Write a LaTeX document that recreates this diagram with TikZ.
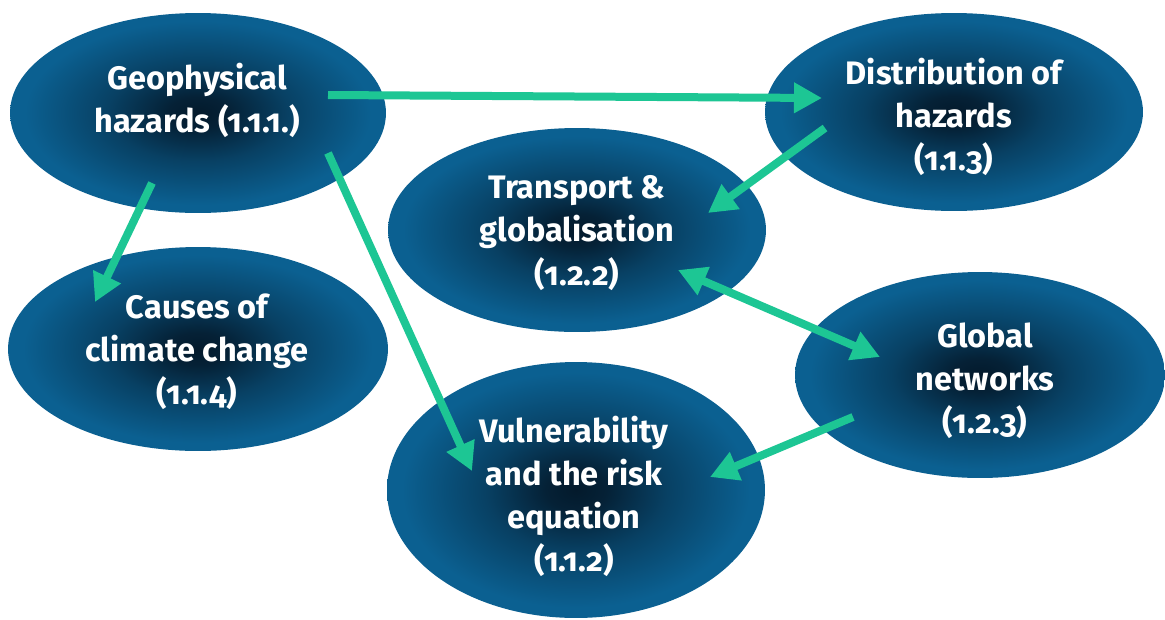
\documentclass[tikz,border=0pt]{standalone}
\usepackage{fontspec}
\setmainfont{Fira Sans}[Numbers=OldStyle]
\usetikzlibrary{shapes.geometric,arrows.meta}
\definecolor{ellblue}{RGB}{11,96,145}
\definecolor{elldark}{RGB}{4,26,44}
\definecolor{arrgreen}{RGB}{29,198,148}
\pgfdeclareradialshading{ellshade}{\pgfpoint{0bp}{0bp}}{%
  color(0bp)=(elldark); color(4bp)=(elldark!90!ellblue); color(12bp)=(elldark!45!ellblue); color(23bp)=(ellblue); color(50bp)=(ellblue)}
\begin{document}
\begin{tikzpicture}[x=0.02cm,y=-0.02cm,
  bubble/.style={ellipse, shading=ellshade, inner sep=0pt},
  lbl/.style={text=white, align=center, font=\fontsize{18.5}{24.5}\selectfont\bfseries},
  arr/.style={draw=arrgreen, line width=0.16cm, -{Triangle[length=0.56cm,width=0.58cm]}},
  arrboth/.style={draw=arrgreen, line width=0.16cm, {Triangle[length=0.56cm,width=0.58cm]}-{Triangle[length=0.56cm,width=0.58cm]}}]
\useasboundingbox (0,0) rectangle (1165,619);
\fill[white] (0,0) rectangle (1165,619);
% ellipses
\node[bubble, minimum width=7.52cm, minimum height=4.0cm] (geo) at (198,113) {};
\node[bubble, minimum width=7.56cm, minimum height=3.96cm] (dist) at (954,112) {};
\node[bubble, minimum width=7.56cm, minimum height=4.08cm] (trans) at (577,230) {};
\node[bubble, minimum width=7.6cm, minimum height=4.08cm] (cause) at (198,349) {};
\node[bubble, minimum width=7.4cm, minimum height=4.12cm] (glob) at (980,375) {};
\node[bubble, minimum width=7.56cm, minimum height=5.12cm] (vuln) at (576,490) {};
% labels
\node[lbl] (geoT) at (197,100) {Geophysical\\hazards (1.1.1.)};
\node[lbl] (distT) at (954,117) {Distribution of\\hazards\\(1.1.3)};
\node[lbl] (transT) at (577,233) {Transport \&\\globalisation\\(1.2.2)};
\node[lbl] (causeT) at (197,352) {Causes of\\climate change\\(1.1.4)};
\node[lbl] (globT) at (985,381) {Global\\networks\\(1.2.3)};
\node[lbl] (vulnT) at (574,496) {Vulnerability\\and the risk\\equation\\(1.1.2)};
% connectors
\draw[arr] ([shift={(130,-18)}]geo.center) -- ([shift={(-132,-14)}]dist.center);
\draw[arr] ([shift={(-129,16)}]dist.center) -- ([shift={(131,-17)}]trans.center);
\draw[arr] ([shift={(-46,70)}]geo.center) -- ([shift={(-103,-47)}]cause.center);
\draw[arr] ([shift={(130,40)}]geo.center) -- ([shift={(-104,-19)}]vuln.center);
\draw[arrboth] ([shift={(101,40)}]trans.center) -- ([shift={(-100,-18)}]glob.center);
\draw[arr] ([shift={(-127,42)}]glob.center) -- ([shift={(134,-13)}]vuln.center);
\end{tikzpicture}
\end{document}
